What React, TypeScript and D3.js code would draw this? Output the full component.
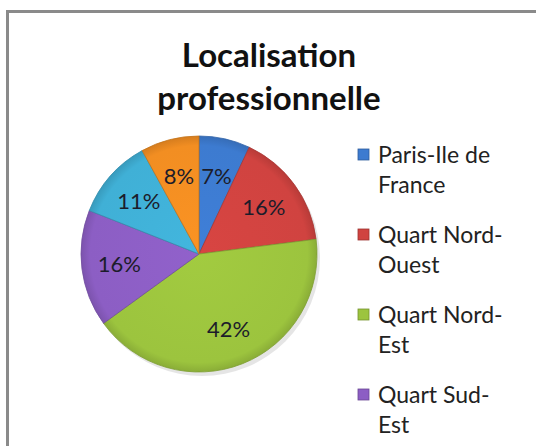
import React, { useEffect, useRef } from "react";
import * as d3 from "d3";

const categories = ["Paris-Ile de France", "Quart Nord-Ouest", "Quart Nord-Est", "Quart Sud-Est", "Quart Sud-Ouest", "Etranger"];
const values = [7, 16, 42, 16, 11, 8];
const legendLines = [
  ["Paris-Ile de", "France"],
  ["Quart Nord-", "Ouest"],
  ["Quart Nord-", "Est"],
  ["Quart Sud-", "Est"],
  ["Quart Sud-", "Ouest"],
  ["Etranger"],
];
const colors = ["#3d7bd0", "#d04340", "#9cc43e", "#8c5ec4", "#40b0d6", "#f28e22"];
const titleLines = ["Localisation", "professionnelle"];

const App = () => {
  const ref = useRef<SVGSVGElement>(null);

  useEffect(() => {
    const svg = d3.select(ref.current);
    svg.selectAll("*").remove();

    const width = 536;
    const height = 446;
    const cx = 199;
    const cy = 254;
    const radius = 118;
    const font = "Lato, 'Open Sans', sans-serif";

    svg.append("rect")
      .attr("x", 0).attr("y", 0)
      .attr("width", width).attr("height", height)
      .attr("fill", "#ffffff");

    // chart frame, cut off at right and bottom
    svg.append("path")
      .attr("d", `M7.5,${height + 2}V11.5H${width + 2}`)
      .attr("fill", "none")
      .attr("stroke", "#8a8a8a")
      .attr("stroke-width", 3);

    // title
    svg.append("g")
      .selectAll("text")
      .data(titleLines)
      .enter()
      .append("text")
      .attr("x", 269)
      .attr("y", (d, i) => 67 + i * 43)
      .attr("text-anchor", "middle")
      .style("font-family", font)
      .style("font-weight", "bold")
      .style("font-size", "33px")
      .style("fill", "#111")
      .text(d => d);

    const defs = svg.append("defs");
    colors.forEach((c, i) => {
      const g = defs.append("radialGradient")
        .attr("id", `grad${i}`)
        .attr("gradientUnits", "userSpaceOnUse")
        .attr("cx", 0).attr("cy", 0).attr("r", radius);
      g.append("stop").attr("offset", "0%").attr("stop-color", d3.color(c)!.brighter(0.1).formatHex());
      g.append("stop").attr("offset", "92%").attr("stop-color", c);
      g.append("stop").attr("offset", "100%").attr("stop-color", d3.color(c)!.darker(0.35).formatHex());
    });

    const pie = d3.pie<number>().sort(null).value(d => d);
    const arcs = pie(values);
    const arc = d3.arc<d3.PieArcDatum<number>>().innerRadius(0).outerRadius(radius);
    const labelArc = d3.arc<d3.PieArcDatum<number>>().innerRadius(radius * 0.68).outerRadius(radius * 0.68);

    const g = svg.append("g").attr("transform", `translate(${cx},${cy})`);

    // soft shadow
    g.append("circle")
      .attr("cx", 3).attr("cy", 4).attr("r", radius)
      .attr("fill", "#000")
      .attr("opacity", 0.1);

    g.selectAll("path.slice")
      .data(arcs)
      .enter()
      .append("path")
      .attr("class", "slice")
      .attr("d", arc)
      .attr("fill", (d, i) => `url(#grad${i})`)
      .attr("stroke", (d, i) => d3.color(colors[i])!.darker(0.6).formatHex())
      .attr("stroke-width", 0.8);

    g.selectAll("text.label")
      .data(arcs)
      .enter()
      .append("text")
      .attr("class", "label")
      .attr("transform", d => `translate(${labelArc.centroid(d)})`)
      .attr("text-anchor", "middle")
      .attr("dy", "0.36em")
      .style("font-family", font)
      .style("font-size", "22px")
      .style("fill", "#1c1c2a")
      .text(d => `${d.data}%`);

    // legend (the frame crops it after the fourth entry)
    const rowY = (i: number) => 155 + i * 80;
    const shown = categories.filter((d, i) => rowY(i) + 30 * (legendLines[i].length - 1) + 8 < height);
    const legend = svg.append("g");
    const item = legend.selectAll("g")
      .data(shown)
      .enter()
      .append("g")
      .attr("transform", (d, i) => `translate(358,${rowY(i)})`);

    item.append("rect")
      .attr("x", 0).attr("y", -6)
      .attr("width", 11).attr("height", 11)
      .attr("fill", (d, i) => colors[i])
      .attr("stroke", (d, i) => d3.color(colors[i])!.darker(0.8).formatHex())
      .attr("stroke-width", 0.8);

    item.append("text")
      .style("font-family", font)
      .style("font-size", "23px")
      .style("fill", "#222")
      .selectAll("tspan")
      .data((d, i) => legendLines[i])
      .enter()
      .append("tspan")
      .attr("x", 20)
      .attr("y", (d, j) => 8 + j * 30)
      .text(d => d);
  }, []);

  return (
    <svg
      ref={ref}
      width={536}
      height={446}
      style={{ position: "absolute", left: 0, top: 0, overflow: "hidden" }}
    />
  );
};

export default App;
